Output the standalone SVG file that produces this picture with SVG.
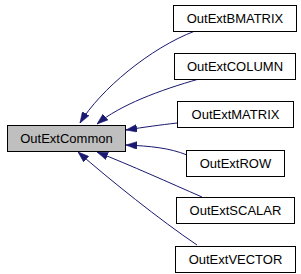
<svg xmlns="http://www.w3.org/2000/svg" width="301" height="274" viewBox="0 0 301 274">
<style>
.box{fill:#ffffff;stroke:#000000;stroke-width:1}
.main{fill:#bfbfbf}
.lbl{font-family:"Liberation Sans",Arial,sans-serif;font-size:13px;fill:#000000;text-anchor:middle}
.edge{fill:none;stroke:#191970;stroke-width:1;marker-end:url(#arr)}
</style>
<defs>
<marker id="arr" viewBox="0 0 10 7" refX="10" refY="3.5" markerUnits="userSpaceOnUse" markerWidth="11" markerHeight="8" orient="auto">
<path d="M0,0 L10,3.5 L0,7 z" fill="#191970" stroke="#191970" stroke-width="0.5"/>
</marker>
</defs>
<rect width="301" height="274" fill="#ffffff"/>
<g id="connectors">
<path class="edge" d="M195,31 C150,48 100,90 80,123"/>
<path class="edge" d="M199,79 C160,90 120,105 97,124"/>
<path class="edge" d="M177,123 C160,125 145,127 126,130"/>
<path class="edge" d="M187,155 C170,148 150,146 126,145"/>
<path class="edge" d="M202,197 C170,183 130,165 97,152"/>
<path class="edge" d="M197,245 C160,220 110,180 78,152"/>
</g>
<g id="OutExtCommon">
<rect class="box main" x="7.5" y="125.5" width="118" height="26"/>
<text class="lbl" x="66.5" y="143">OutExtCommon</text>
</g>
<g id="OutExtBMATRIX">
<rect class="box" x="173.5" y="5.5" width="123" height="26"/>
<text class="lbl" x="235" y="23">OutExtBMATRIX</text>
</g>
<g id="OutExtCOLUMN">
<rect class="box" x="174.5" y="53.5" width="121" height="26"/>
<text class="lbl" x="235" y="71">OutExtCOLUMN</text>
</g>
<g id="OutExtMATRIX">
<rect class="box" x="177.5" y="101.5" width="116" height="26"/>
<text class="lbl" x="235.5" y="119">OutExtMATRIX</text>
</g>
<g id="OutExtROW">
<rect class="box" x="186.5" y="150.5" width="98" height="26"/>
<text class="lbl" x="235.5" y="168">OutExtROW</text>
</g>
<g id="OutExtSCALAR">
<rect class="box" x="176.5" y="197.5" width="118" height="26"/>
<text class="lbl" x="235.5" y="215">OutExtSCALAR</text>
</g>
<g id="OutExtVECTOR">
<rect class="box" x="175.5" y="246.5" width="120" height="26"/>
<text class="lbl" x="235.5" y="264">OutExtVECTOR</text>
</g>
</svg>
